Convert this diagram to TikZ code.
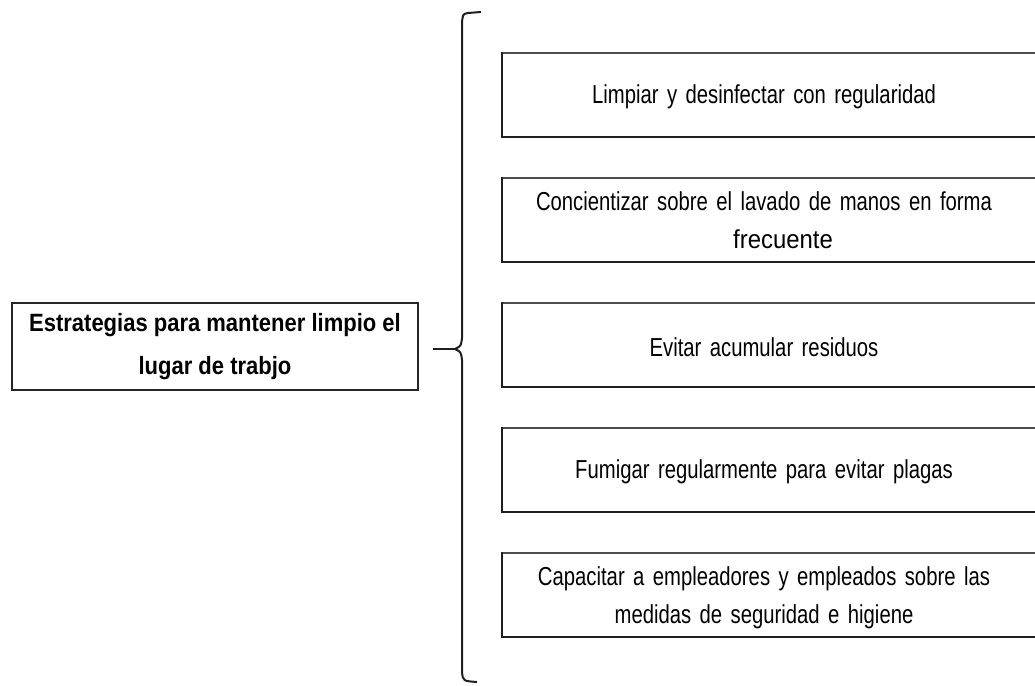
\documentclass[tikz,border=0pt]{standalone}
\usepackage{fontspec}
\setmainfont{Liberation Sans}[FakeStretch=0.78,WordSpace=1.5]
\newfontfamily\plainf{Liberation Sans}[FakeStretch=0.92]
\newfontfamily\boldf{Liberation Sans Bold}[FakeStretch=0.88]
\begin{document}
\begin{tikzpicture}[x=1pt,y=-1pt,
  item/.style={minimum width=524pt,minimum height=84pt,inner sep=0pt,align=center,
    font=\fontsize{26}{38}\selectfont},
  mainbox/.style={draw=black!85,line width=2pt,minimum width=406pt,minimum height=87pt,
    inner sep=0pt,align=center,font=\boldf\fontsize{25}{43}\selectfont},
  topline/.style={draw=black!70,line width=1.3pt},
  sideline/.style={draw=black!88,line width=2.3pt},
  brace/.style={draw=black!88,line width=2pt}]
\useasboundingbox (0,0) rectangle (1035,685);
\node[mainbox] (main) at (215,346.5) {Estrategias para mantener limpio el\\lugar de trabjo};
\node[item] (b1) at (764,97) {Limpiar y desinfectar con regularidad};
\node[item] (b2) at (764,220) {Concientizar sobre el lavado de manos en forma\\\hspace*{38pt}{\plainf\fontsize{26}{38}\selectfont frecuente}};
\node[item] (b3) at (764,347) {Evitar acumular residuos};
\node[item] (b4) at (764,472) {Fumigar regularmente para evitar plagas};
\node[item] (b5) at (764,598) {Capacitar a empleadores y empleados sobre las\\medidas de seguridad e higiene};
\foreach \b/\y in {b1/53,b2/178,b3/303,b4/428,b5/553}{
  \coordinate (\b nw) at (502,\y);
  \coordinate (\b sw) at (502,\y+84);
  \draw[topline] (\b nw) -- (1035,\y);
  \draw[sideline,line cap=rect] (\b nw) -- (\b sw) -- (1035,\y+84);
}
\coordinate (btop) at (481,12);
\coordinate (bbot) at (477,682);
\coordinate (btip) at (455,349);
\coordinate (bstart) at (433,349);
\draw[brace] (btop) -- (468,13) .. controls (463,14) .. (462,22) -- (462,338)
  .. controls (461,346) .. (btip) .. controls (461,352) .. (462,360) -- (462,672)
  .. controls (463,681) .. (bbot);
\draw[brace] (bstart) -- (btip);
\end{tikzpicture}
\end{document}
